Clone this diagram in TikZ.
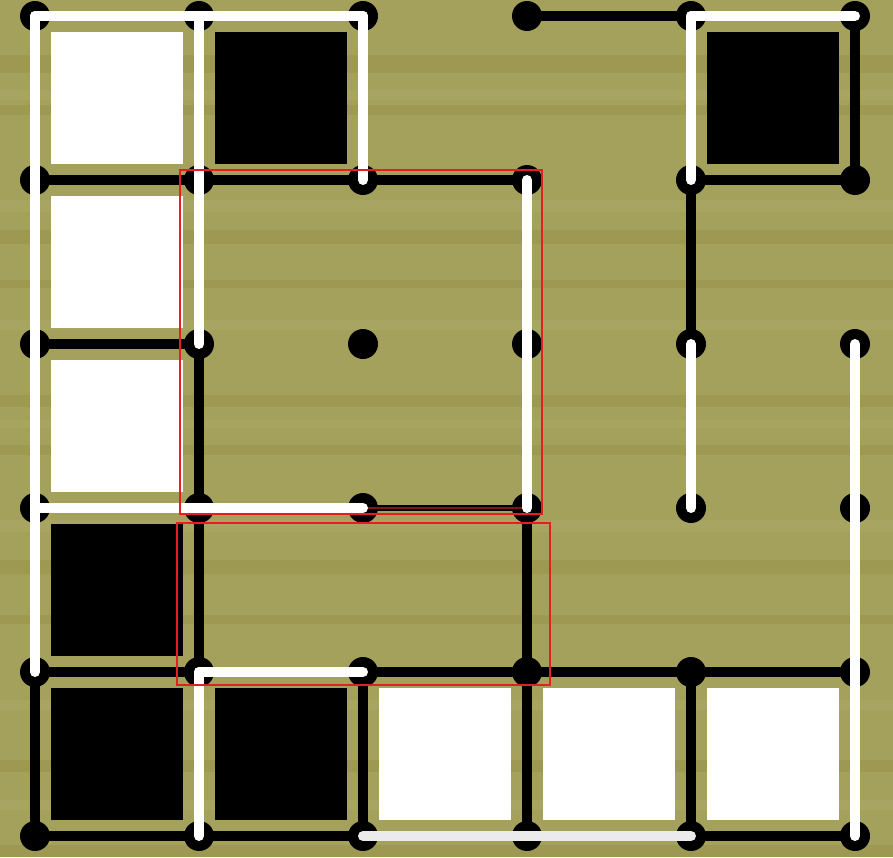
\documentclass[tikz,border=0pt]{standalone}
\definecolor{wood}{RGB}{164,161,92}
\definecolor{wooddark}{RGB}{140,132,58}
\definecolor{woodlight}{RGB}{176,178,112}
\definecolor{markred}{RGB}{230,30,36}
\definecolor{linered}{RGB}{130,20,20}
\begin{document}
\begin{tikzpicture}[x=1pt,y=-1pt,
  dot/.style={circle,fill=black,inner sep=0pt,minimum size=30pt},
  wl/.style={draw=white,line width=10pt,line cap=round},
  gl/.style={draw=black!8,line width=10pt,line cap=round},
  bl/.style={draw=black,line width=10pt,line cap=round},
  thinl/.style={draw=black,line width=6pt},
  redl/.style={draw=linered,line width=1.5pt},
  wcell/.style={fill=white},
  bcell/.style={fill=black},
  redframe/.style={draw=markred,line width=2pt}]
\useasboundingbox (0,0) rectangle (893,857);
\fill[wood] (0,0) rectangle (893,857);
% wood grain
\foreach \y/\h in {55/18,105/10,230/14,280/8,395/12,445/10,560/14,615/9,760/12,845/12}
  \fill[wooddark,opacity=0.25] (0,\y) rectangle (893,\y+\h);
\foreach \y/\h in {90/10,200/12,320/10,420/8,520/12,700/10,800/10}
  \fill[woodlight,opacity=0.25] (0,\y) rectangle (893,\y+\h);
% filled cells
\foreach \c/\r in {0/0,0/1,0/2,2/4,3/4,4/4}
  \fill[wcell] (35+164*\c+16,16+164*\r+16) rectangle ++(132,132);
\foreach \c/\r in {1/0,4/0,0/3,0/4,1/4}
  \fill[bcell] (35+164*\c+16,16+164*\r+16) rectangle ++(132,132);
% dots
\foreach \c in {0,...,5}
  \foreach \r in {0,...,5}
    \node[dot] (d\c\r) at (35+164*\c,16+164*\r) {};
% black lines
\foreach \a/\b in {d30/d40,d50/d51,d01/d11,d11/d21,d21/d31,d41/d51,d41/d42,
  d02/d12,d12/d13,d13/d14,d33/d34,d04/d14,d24/d34,d34/d44,d44/d54,
  d04/d05,d24/d25,d34/d35,d44/d45,d05/d15,d15/d25,d45/d55}
  \draw[bl] (\a.center) -- (\b.center);
\draw[thinl] (d23.center) -- (d33.center);
\draw[redl] (d23.center) -- (d33.center);
% white lines
\foreach \a/\b in {d00/d10,d10/d20,d40/d50,d00/d01,d10/d11,d20/d21,d40/d41,
  d01/d02,d11/d12,d31/d32,d02/d03,d32/d33,d42/d43,d52/d53,d03/d13,d13/d23,
  d03/d04,d53/d54,d14/d24,d14/d15,d54/d55}
  \draw[wl] (\a.center) -- (\b.center);
\draw[gl] (d25.center) -- (d35.center);
\draw[gl] (d35.center) -- (d45.center);
% red frames
\draw[redframe] (180,170) rectangle (542,514);
\draw[redframe] (177,523) rectangle (550,685);
\end{tikzpicture}
\end{document}
